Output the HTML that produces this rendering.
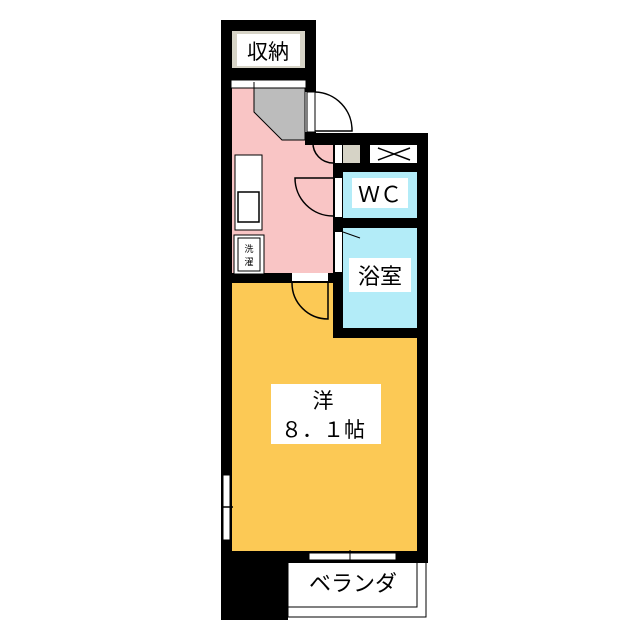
<!DOCTYPE html>
<html><head><meta charset="utf-8"><style>
body{margin:0;background:#fff;}
svg{display:block;}
text{font-family:"Liberation Sans","Noto Sans CJK JP",sans-serif;fill:#000;}
</style></head><body>
<svg width="640" height="640" viewBox="0 0 640 640" xmlns="http://www.w3.org/2000/svg">
<rect x="232" y="88" width="73" height="50" fill="#f9c5c5"/>
<rect x="232" y="133" width="101" height="140" fill="#f9c5c5"/>
<rect x="232" y="283" width="101" height="60" fill="#fcc955"/>
<rect x="232" y="338" width="185" height="213" fill="#fcc955"/>
<rect x="343" y="172" width="74" height="46" fill="#b3ecf8"/>
<rect x="343" y="228" width="74" height="100" fill="#b3ecf8"/>
<rect x="221" y="20" width="95" height="11" fill="#000"/>
<rect x="221" y="20" width="11" height="600" fill="#000"/>
<rect x="305" y="20" width="11" height="72" fill="#000"/>
<rect x="221" y="68" width="95" height="12" fill="#000"/>
<rect x="305" y="132" width="11" height="13" fill="#000"/>
<rect x="305" y="133" width="123" height="12" fill="#000"/>
<rect x="333" y="133" width="10" height="205" fill="#000"/>
<rect x="360" y="145" width="10" height="18" fill="#000"/>
<rect x="333" y="163" width="95" height="9" fill="#000"/>
<rect x="333" y="218" width="95" height="10" fill="#000"/>
<rect x="333" y="328" width="95" height="10" fill="#000"/>
<rect x="417" y="133" width="11" height="430" fill="#000"/>
<rect x="221" y="551" width="207" height="12" fill="#000"/>
<rect x="221" y="551" width="67" height="69" fill="#000"/>
<rect x="232" y="273" width="101" height="10" fill="#000"/>
<rect x="232" y="31" width="73" height="37" fill="#d6d3c6"/>
<rect x="237" y="34" width="63" height="32" fill="#fff"/>
<text x="268" y="59" font-size="21" text-anchor="middle">収納</text>
<rect x="231" y="80" width="75" height="8" fill="#fff" stroke="#000" stroke-width="1"/>
<polygon points="254,88 305,88 305,140 282,140 254,112" fill="#bcbcbc" stroke="#000" stroke-width="1"/>
<line x1="254" y1="82" x2="254" y2="88" stroke="#000"/>
<rect x="307" y="92" width="8" height="40" fill="#fff" stroke="#000" stroke-width="1"/>
<path d="M315,92 A38,38 0 0 1 352,131 L315,131" fill="none" stroke="#000" stroke-width="1.5"/>
<rect x="235" y="155" width="27" height="75" fill="#fff" stroke="#000" stroke-width="1"/>
<rect x="238" y="192" width="21" height="30" fill="#fff" stroke="#000" stroke-width="1.5"/>
<rect x="234" y="235" width="30" height="39" fill="#fff" stroke="#000" stroke-width="1"/>
<rect x="238" y="238" width="22" height="33" fill="#fff" stroke="#000" stroke-width="1"/>
<text x="249" y="252" font-size="9" text-anchor="middle">洗</text>
<text x="249" y="265" font-size="9" text-anchor="middle">濯</text>
<rect x="343" y="145" width="17" height="18" fill="#d6d3c6"/>
<rect x="370" y="145" width="47" height="18" fill="#fff"/>
<path d="M378,148 L410,160 M410,148 L378,160" stroke="#000" stroke-width="1.5"/>
<rect x="335" y="145" width="7" height="18" fill="#fff"/>
<path d="M313,142 A20,20 0 0 0 333,163" fill="none" stroke="#000" stroke-width="1.5"/>
<rect x="352" y="178" width="56" height="30" fill="#fff"/>
<text x="380" y="202" font-size="22" text-anchor="middle">ＷＣ</text>
<rect x="335" y="178" width="7" height="39" fill="#fff"/>
<path d="M333,178 L295,178 A38,38 0 0 0 333,216" fill="none" stroke="#000" stroke-width="1.5"/>
<rect x="335" y="232" width="7" height="40" fill="#fff"/>
<path d="M343,232 L360,238" stroke="#000" stroke-width="1"/>
<rect x="349" y="258" width="62" height="34" fill="#fff"/>
<text x="380" y="284" font-size="22" text-anchor="middle">浴室</text>
<rect x="292" y="273" width="36" height="8" fill="#fff"/>
<path d="M292,283 A36,36 0 0 0 328,319 L328,283" fill="none" stroke="#000" stroke-width="1.5"/>
<rect x="271" y="384" width="110" height="60" fill="#fff"/>
<text x="323" y="408" font-size="21" text-anchor="middle">洋</text>
<text x="323" y="437" font-size="21" text-anchor="middle">８．１帖</text>
<rect x="223" y="475" width="7" height="65" fill="#fff" stroke="#000" stroke-width="1"/>
<line x1="221" y1="507" x2="233" y2="507" stroke="#000" stroke-width="1.5"/>
<rect x="309" y="553" width="87" height="7" fill="#fff" stroke="#000" stroke-width="1"/>
<line x1="350" y1="550" x2="350" y2="562" stroke="#000" stroke-width="1"/>
<rect x="288" y="563" width="140" height="55" fill="#fff"/>
<path d="M288,563 L288,617 L426,617 L426,563" fill="none" stroke="#000" stroke-width="1"/>
<path d="M288,607 L417,607 L417,563" fill="none" stroke="#000" stroke-width="1"/>
<text x="353" y="591" font-size="22" text-anchor="middle">ベランダ</text>
</svg>
</body></html>
